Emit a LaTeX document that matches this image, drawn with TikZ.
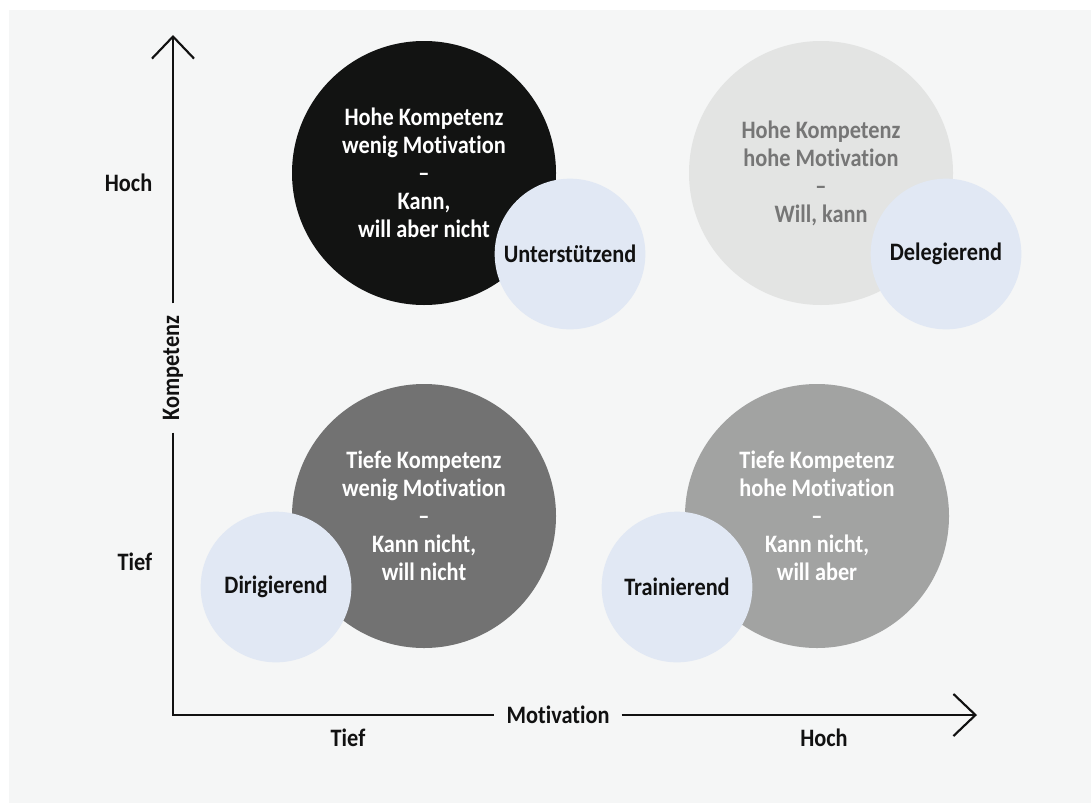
\documentclass[tikz,border=0pt]{standalone}
\usepackage{fontspec}
\setmainfont{Carlito}[FakeStretch=0.89, Ligatures=NoCommon]
\usepackage{tikz}
\usetikzlibrary{arrows.meta}
\definecolor{QuadPanel}{HTML}{F5F6F6}
\definecolor{QuadBlack}{HTML}{121312}
\definecolor{QuadLight}{HTML}{E3E4E3}
\definecolor{QuadDark}{HTML}{727272}
\definecolor{QuadMid}{HTML}{A2A3A2}
\definecolor{QuadBlue}{HTML}{E1E8F4}
\definecolor{QuadGrayText}{HTML}{767676}
\definecolor{QuadInk}{HTML}{111111}
\newcommand{\labelfont}{\fontsize{18.8}{21}\selectfont\bfseries}
\tikzset{
    % Circle styles
    bigcircle/.style={
        circle,
        minimum size=198pt,
        inner sep=0pt,
        align=center,
        text=white,
        font=\labelfont
    },
    stylecircle/.style={
        circle,
        fill=QuadBlue,
        minimum size=113pt,
        inner sep=0pt,
        text=QuadInk,
        font=\labelfont
    },
    % Axis styles
    axisline/.style={
        draw=QuadInk,
        line width=1.6pt
    },
    axisarrow/.style={
        axisline,
        -{Straight Barb[length=16.5pt, width=31.5pt]}
    },
    axislabel/.style={
        font=\labelfont,
        text=QuadInk,
        inner xsep=9pt,
        inner ysep=2pt
    },
    ticklabel/.style={
        font=\labelfont,
        text=QuadInk
    }
}
\begin{document}
\begin{tikzpicture}[x=0.75pt, y=-0.75pt]
    \useasboundingbox (0,0) rectangle (1091,803);
    % Panel
    \fill[QuadPanel] (9,10) rectangle (1091,803);

    % Axes
    \coordinate (origin) at (173,715);
    \coordinate (ytop) at (173,35);
    \coordinate (xend) at (977,715);
    \node[axislabel, rotate=90] (komp) at (173,368) {Kompetenz};
    \node[axislabel] (motiv) at (558,715) {Motivation};
    \draw[axisline] (komp.west) -- (origin) -- (motiv.west);
    \draw[axisarrow] (komp.east) -- (ytop);
    \draw[axisarrow] (motiv.east) -- (xend);

    % Axis levels
    \node[ticklabel, anchor=east] (khoch) at (157,183) {Hoch};
    \node[ticklabel, anchor=east] (ktief) at (157,562) {Tief};
    \node[ticklabel] (mtief) at (348,738) {Tief};
    \node[ticklabel] (mhoch) at (824,738) {Hoch};

    % Quadrants
    \node[bigcircle, fill=QuadBlack] (hw) at (424,173)
        {Hohe Kompetenz\\wenig Motivation\\\textendash\\Kann,\\will aber nicht};
    \node[bigcircle, fill=QuadLight, text=QuadGrayText] (hh) at (821,173)
        {Hohe Kompetenz\\hohe Motivation\\\textendash\\Will, kann};
    \node[bigcircle, fill=QuadDark] (tw) at (424,516)
        {Tiefe Kompetenz\\wenig Motivation\\\textendash\\Kann nicht,\\will nicht};
    \node[bigcircle, fill=QuadMid] (th) at (817,516)
        {Tiefe Kompetenz\\hohe Motivation\\\textendash\\Kann nicht,\\will aber};

    % Leadership styles
    \node[stylecircle] (unter) at (570,254) {Unterstützend};
    \node[stylecircle] (deleg) at (946,254) {Delegierend};
    \node[stylecircle] (dirig) at (276,587) {Dirigierend};
    \node[stylecircle] (train) at (677,587) {Trainierend};
\end{tikzpicture}
\end{document}
